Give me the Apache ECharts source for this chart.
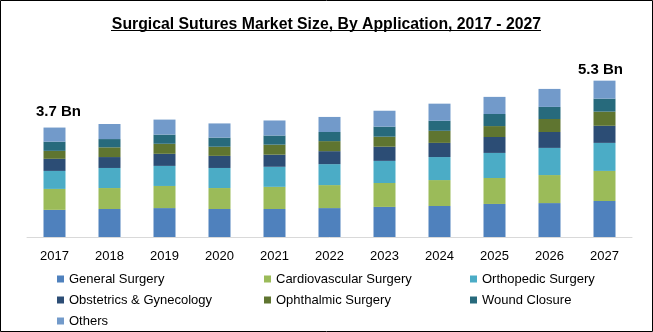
<!DOCTYPE html>
<html>
<head>
<meta charset="utf-8">
<script src="https://cdn.jsdelivr.net/npm/echarts@6/dist/echarts.min.js"></script>
<style>
html,body{margin:0;padding:0;background:#fff;}
#chart{width:653px;height:332px;}
</style>
</head>
<body>
<div id="chart"></div>
<script>
var years = ['2017','2018','2019','2020','2021','2022','2023','2024','2025','2026','2027'];
var generalSurgery   = [0.92,0.95,0.98,0.95,0.95,0.98,1.02,1.05,1.12,1.15,1.22];
var cardiovascular   = [0.71,0.71,0.75,0.71,0.75,0.78,0.81,0.88,0.88,0.95,1.02];
var orthopedic       = [0.61,0.68,0.68,0.68,0.68,0.71,0.75,0.78,0.85,0.92,0.95];
var obstetrics       = [0.41,0.37,0.41,0.41,0.41,0.44,0.48,0.48,0.54,0.54,0.58];
var ophthalmic       = [0.27,0.33,0.34,0.31,0.34,0.34,0.34,0.41,0.37,0.44,0.48];
var woundClosure     = [0.31,0.28,0.31,0.31,0.31,0.31,0.34,0.34,0.41,0.41,0.44];
var others           = [0.48,0.51,0.51,0.48,0.51,0.51,0.54,0.58,0.58,0.61,0.61];
var seriesNames = ['General Surgery','Cardiovascular Surgery','Orthopedic Surgery','Obstetrics & Gynecology','Ophthalmic Surgery','Wound Closure','Others'];
var seriesColors = ['#4f81bd','#9bbb59','#4bacc6','#2c4d75','#5f7530','#276a7c','#729aca'];
var totalLabels = {0:'3.7 Bn', 10:'5.3 Bn'};

var allData = [generalSurgery,cardiovascular,orthopedic,obstetrics,ophthalmic,woundClosure,others];
var font = 'Liberation Sans, Arial, sans-serif';

var series = allData.map(function(arr, si){
  var data = arr.map(function(v, i){
    if (si === allData.length - 1 && totalLabels[i] !== undefined) {
      return {
        value: v,
        label: {
          show: true, position: 'top',
          formatter: totalLabels[i],
          distance: i === 0 ? 8 : 3,
          offset: i === 0 ? [4, 0] : [-4, 0],
          fontSize: 15, fontWeight: 'bold', color: '#000', fontFamily: font
        }
      };
    }
    return v;
  });
  return {
    name: seriesNames[si], type: 'bar', stack: 'total', barWidth: 22,
    itemStyle: {color: seriesColors[si]},
    data: data, animation: false
  };
});

function legendCol(names, left){
  return {
    orient: 'vertical', left: left, top: 272, height: 80, padding: 0,
    data: names, icon: 'rect', itemWidth: 7, itemHeight: 7, itemGap: 7,
    itemTextGap: 5, selectedMode: false,
    textStyle: {fontSize: 13, color: '#000', fontFamily: font, lineHeight: 14}
  };
}

var chart = echarts.init(document.getElementById('chart'));
chart.setOption({
  backgroundColor: '#fff',
  animation: false,
  title: {
    text: 'Surgical Sutures Market Size, By Application, 2017 - 2027',
    left: 'center', top: 12,
    textStyle: {fontSize: 15.8, fontWeight: 'bold', color: '#000', fontFamily: font}
  },
  grid: {left: 27, right: 21, top: 60, bottom: 95},
  xAxis: {
    type: 'category', data: years,
    axisLine: {lineStyle: {color: '#d9d9d9'}},
    axisTick: {show: false},
    axisLabel: {color: '#000', fontSize: 13, fontFamily: font, margin: 13}
  },
  yAxis: {
    type: 'value', min: 0, max: 6, show: false,
    splitLine: {show: false}
  },
  legend: [
    legendCol(['General Surgery','Obstetrics & Gynecology','Others'], 57),
    legendCol(['Cardiovascular Surgery','Ophthalmic Surgery'], 264),
    legendCol(['Orthopedic Surgery','Wound Closure'], 470)
  ],
  graphic: [
    {type: 'rect', shape: {x: 0.5, y: 0.5, width: 652, height: 331}, style: {stroke: '#000', fill: null, lineWidth: 1}, silent: true},
    {type: 'line', shape: {x1: 111, y1: 30.5, x2: 541, y2: 30.5}, style: {stroke: '#000', lineWidth: 1}, silent: true}
  ],
  series: series
});
</script>
</body>
</html>
